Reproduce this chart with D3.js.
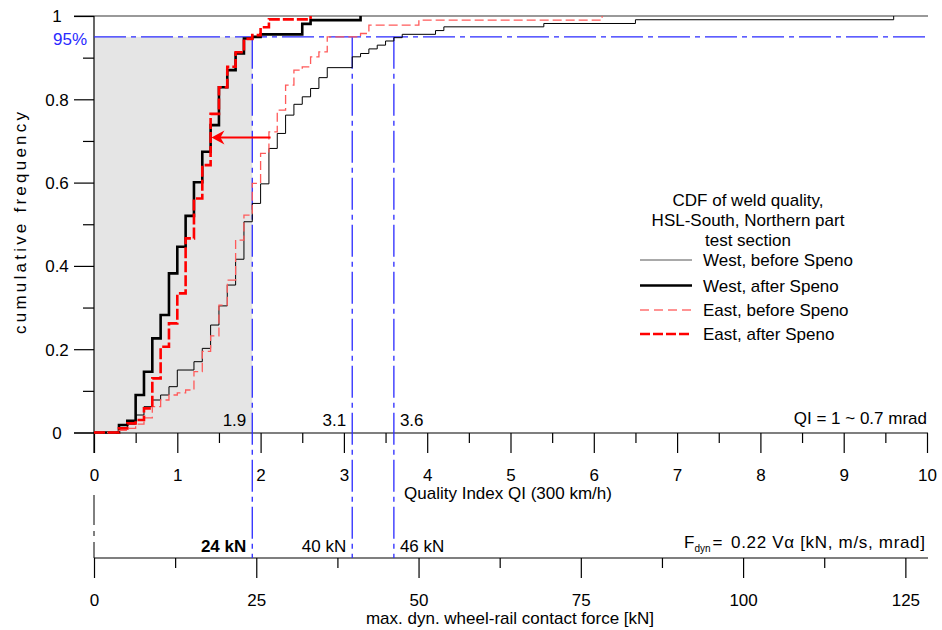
<!DOCTYPE html>
<html>
<head>
<meta charset="utf-8">
<script src="https://cdn.jsdelivr.net/npm/d3@7"></script>
<style>
  body { margin: 0; background: #fff; }
  svg text { font-family: "Liberation Sans", Arial, sans-serif; font-size: 17px; fill: #000; }
</style>
</head>
<body>
<div id="chart"></div>
<script>
// tick values
var qiTicks = d3.range(0, 11);
var qiMinor = d3.range(0.5, 10, 1);
var freqTicks = [0, 0.2, 0.4, 0.6, 0.8, 1];
var freqMinor = [0.1, 0.3, 0.5, 0.7, 0.9];
var forceTicks = [0, 25, 50, 75, 100, 125];
var forceMinor = [12.5, 37.5, 62.5, 87.5, 112.5];

// 95% limits
var qiLimits = [1.9, 3.1, 3.6];
var qiLimitLabels = ["1.9", "3.1", "3.6"];
var forceLimitLabels = ["24 kN", "40 kN", "46 kN"];
var level95 = 0.95;

// arrow: West before -> West after at ~71 %
var arrowFrom = 2.12, arrowTo = 1.41, arrowLevel = 0.708;

// CDF steps [QI, cumulative frequency]
var westBefore = [[0,0],[0.3,0.010],[0.4,0.020],[0.5,0.042],[0.6,0.062],[0.7,0.078],[0.8,0.090],
  [0.9,0.110],[1.0,0.150],[1.2,0.170],[1.3,0.202],[1.4,0.258],[1.5,0.304],[1.6,0.354],[1.7,0.416],
  [1.8,0.506],[1.9,0.550],[2.0,0.597],[2.1,0.682],[2.2,0.718],[2.3,0.762],[2.4,0.788],[2.5,0.806],
  [2.6,0.826],[2.7,0.852],[2.8,0.876],[3.1,0.902],[3.2,0.910],[3.3,0.921],[3.4,0.930],[3.5,0.940],
  [3.6,0.948],[3.7,0.956],[4.1,0.965],[4.2,0.974],[5.4,0.982],[6.5,0.991],[9.6,1]];
var westAfter = [[0,0],[0.3,0.018],[0.4,0.028],[0.5,0.090],[0.6,0.146],[0.7,0.226],[0.8,0.282],
  [0.9,0.382],[1.0,0.446],[1.1,0.520],[1.2,0.601],[1.3,0.674],[1.4,0.738],[1.5,0.829],[1.6,0.870],
  [1.7,0.910],[1.8,0.946],[1.9,0.950],[2.0,0.956],[2.5,0.981],[2.6,0.990],[3.2,1]];
var eastBefore = [[0,0],[0.3,0.005],[0.4,0.010],[0.5,0.020],[0.6,0.035],[0.7,0.062],[0.8,0.078],
  [0.9,0.090],[1.0,0.095],[1.1,0.102],[1.2,0.146],[1.3,0.195],[1.4,0.232],[1.5,0.306],[1.6,0.366],
  [1.7,0.462],[1.8,0.522],[1.9,0.598],[2.0,0.670],[2.1,0.722],[2.2,0.774],[2.3,0.834],[2.4,0.870],
  [2.5,0.878],[2.6,0.902],[2.7,0.914],[2.8,0.950],[3.2,0.958],[3.3,0.978],[3.9,0.990],[6.1,1]];
var eastAfter = [[0,0],[0.3,0.010],[0.4,0.022],[0.5,0.030],[0.6,0.058],[0.7,0.130],[0.8,0.206],
  [0.9,0.262],[1.0,0.334],[1.1,0.466],[1.2,0.562],[1.3,0.642],[1.4,0.765],[1.5,0.829],[1.6,0.878],
  [1.7,0.913],[1.8,0.945],[1.9,0.954],[2.0,0.973],[2.1,0.992],[2.6,1]];

var seriesNames = ["West, before Speno", "West, after Speno", "East, before Speno", "East, after Speno"];

// F = 0.22 * V[m/s] * alpha[mrad], V = 300 km/h, QI 1 ~ 0.7 mrad
var kNperQI = 0.22 * (300 / 3.6) * 0.7;

var svgWidth = 942, svgHeight = 630;
var svg = d3.select("#chart").append("svg")
  .attr("width", svgWidth)
  .attr("height", svgHeight);

var x = d3.scaleLinear().domain([0, 10]).range([94, 927]);
var xF = d3.scaleLinear().domain([0, 10 * kNperQI]).range([94, 927]);
var y = d3.scaleLinear().domain([0, 1]).range([432.5, 16]);
var yQI = 433, yForce = 558;

// shaded area left of QI 1.9, below 95 %
svg.append("rect")
  .attr("x", x(0)).attr("y", y(level95))
  .attr("width", x(qiLimits[0]) - x(0))
  .attr("height", y(0) - y(level95))
  .attr("fill", "#e5e5e5");

// top line at 100 %
svg.append("line")
  .attr("x1", 74).attr("x2", 928)
  .attr("y1", y(1)).attr("y2", y(1))
  .attr("stroke", "#777").attr("stroke-width", 1.5);

// left axis
var leftAxis = d3.axisLeft(y).tickValues(freqTicks).tickSize(20)
  .tickFormat(function(d) { return d === 0 || d === 1 ? d : d3.format(".1f")(d); });
var gy = svg.append("g").attr("transform", "translate(94,0)").call(leftAxis);
gy.select(".domain").remove();
gy.selectAll("text").attr("x", -37).attr("text-anchor", "middle").attr("dy", "0.35em")
  .style("font-size", "17px").style("font-family", "Liberation Sans, Arial, sans-serif");
svg.append("g").attr("transform", "translate(94,0)")
  .call(d3.axisLeft(y).tickValues(freqMinor).tickSize(11).tickFormat(""))
  .select(".domain").remove();
svg.append("line").attr("x1", 94).attr("x2", 94).attr("y1", y(1)).attr("y2", yQI + 20)
  .attr("stroke", "#000").attr("stroke-width", 1.2);

// QI axis
var bottomAxis = d3.axisBottom(x).tickValues(qiTicks).tickSize(20);
var gx = svg.append("g").attr("transform", "translate(0," + yQI + ")").call(bottomAxis);
gx.select(".domain").remove();
gx.selectAll("text").attr("y", 36)
  .style("font-size", "17px").style("font-family", "Liberation Sans, Arial, sans-serif");
svg.append("g").attr("transform", "translate(0," + yQI + ")")
  .call(d3.axisBottom(x).tickValues(qiMinor).tickSize(10).tickFormat(""))
  .select(".domain").remove();
svg.append("line").attr("x1", 74).attr("x2", 928).attr("y1", yQI).attr("y2", yQI)
  .attr("stroke", "#000").attr("stroke-width", 1.2);

// force axis
var forceAxis = d3.axisBottom(xF).tickValues(forceTicks).tickSize(20);
var gf = svg.append("g").attr("transform", "translate(0," + yForce + ")").call(forceAxis);
gf.select(".domain").remove();
gf.selectAll("text").attr("y", 36)
  .style("font-size", "17px").style("font-family", "Liberation Sans, Arial, sans-serif");
svg.append("g").attr("transform", "translate(0," + yForce + ")")
  .call(d3.axisBottom(xF).tickValues(forceMinor).tickSize(10).tickFormat(""))
  .select(".domain").remove();
svg.append("line").attr("x1", 94).attr("x2", 928).attr("y1", yForce).attr("y2", yForce)
  .attr("stroke", "#000").attr("stroke-width", 1.2);

svg.selectAll(".tick line").attr("stroke", "#000").attr("stroke-width", 1.2);

// dash-dot link between the two zero points
svg.append("line").attr("x1", x(0)).attr("x2", x(0)).attr("y1", 495).attr("y2", yForce)
  .attr("stroke", "#000").attr("stroke-width", 1).attr("stroke-dasharray", "30,6,5,6");

// 95 % lines
var dashDot = "32,5,5,5";
svg.append("line").attr("x1", x(0)).attr("x2", x(10)).attr("y1", y(level95)).attr("y2", y(level95))
  .attr("stroke", "#2a2aff").attr("stroke-width", 1.3).attr("stroke-dasharray", dashDot);
svg.selectAll(".limit").data(qiLimits).enter().append("line")
  .attr("class", "limit")
  .attr("x1", d => x(d)).attr("x2", d => x(d))
  .attr("y1", y(level95)).attr("y2", yForce)
  .attr("stroke", "#2a2aff").attr("stroke-width", 1.3).attr("stroke-dasharray", dashDot);

svg.append("text").attr("x", 87).attr("y", 45).attr("text-anchor", "end")
  .style("fill", "#2a2aff").text("95%");

// CDF curves
var line = d3.line().x(d => x(d[0])).y(d => y(d[1])).curve(d3.curveStepAfter);
var styles = [
  {data: westBefore, color: "#000", width: 1, dash: null},
  {data: westAfter, color: "#000", width: 2.6, dash: null},
  {data: eastBefore, color: "#ff5a5a", width: 1.3, dash: "9,4"},
  {data: eastAfter, color: "#ff0000", width: 2.6, dash: "11,3"}
];
styles.forEach(function(s) {
  svg.append("path").datum(s.data)
    .attr("d", line)
    .attr("fill", "none")
    .attr("stroke", s.color)
    .attr("stroke-width", s.width)
    .attr("stroke-dasharray", s.dash);
});

// arrow
svg.append("line")
  .attr("x1", x(arrowFrom)).attr("x2", x(arrowTo) + 6)
  .attr("y1", y(arrowLevel)).attr("y2", y(arrowLevel))
  .attr("stroke", "#ff0000").attr("stroke-width", 2);
var ax = x(arrowTo), ay = y(arrowLevel);
svg.append("path")
  .attr("d", "M" + ax + "," + ay + " L" + (ax + 13) + "," + (ay - 7) + " L" + (ax + 9) + "," + ay +
    " L" + (ax + 13) + "," + (ay + 7) + " Z")
  .attr("fill", "#ff0000");

// limit labels
svg.selectAll(".qiLab").data(qiLimits).enter().append("text")
  .attr("x", (d, i) => i < 2 ? x(d) - 6 : x(d) + 6)
  .attr("y", 426)
  .attr("text-anchor", (d, i) => i < 2 ? "end" : "start")
  .text((d, i) => qiLimitLabels[i]);
svg.selectAll(".fLab").data(qiLimits).enter().append("text")
  .attr("x", (d, i) => i < 2 ? x(d) - 6 : x(d) + 6)
  .attr("y", 552)
  .attr("text-anchor", (d, i) => i < 2 ? "end" : "start")
  .style("font-weight", (d, i) => i === 0 ? "bold" : "normal")
  .text((d, i) => forceLimitLabels[i]);

svg.append("text").attr("x", 927).attr("y", 424).attr("text-anchor", "end")
  .text("QI = 1 ~ 0.7 mrad");
var fText = svg.append("text").attr("x", 684).attr("y", 548);
fText.append("tspan").text("F");
fText.append("tspan").attr("dy", 4).style("font-size", "10px").text("dyn");
fText.append("tspan").attr("dy", -4).attr("dx", 2).text("=");
fText.append("tspan").attr("x", 731)
  .attr("textLength", 194).attr("lengthAdjust", "spacing")
  .text("0.22 V\u03b1 [kN, m/s, mrad]");

// axis titles
svg.append("text").attr("x", 508).attr("y", 499).attr("text-anchor", "middle")
  .text("Quality Index QI (300 km/h)");
svg.append("text").attr("x", 510).attr("y", 624).attr("text-anchor", "middle")
  .text("max. dyn. wheel-rail contact force [kN]");
svg.append("text")
  .attr("transform", "translate(26,223) rotate(-90)")
  .attr("text-anchor", "middle")
  .attr("textLength", 222).attr("lengthAdjust", "spacing")
  .text("cumulative frequency");

// legend
var legendTitle = ["CDF of weld quality,", "HSL-South, Northern part", "test section"];
svg.selectAll(".lt").data(legendTitle).enter().append("text")
  .attr("x", 748).attr("y", (d, i) => 206 + i * 20)
  .attr("text-anchor", "middle").text(d => d);
var legendY = [260, 285.5, 310, 334];
var legendStyles = [
  {color: "#555", width: 1, dash: null},
  {color: "#000", width: 2.4, dash: null},
  {color: "#ff7070", width: 1.6, dash: "9,5"},
  {color: "#ff0000", width: 2.4, dash: "10,3"}
];
seriesNames.forEach(function(name, i) {
  var ly = legendY[i];
  svg.append("line").attr("x1", 640).attr("x2", 692).attr("y1", ly).attr("y2", ly)
    .attr("stroke", legendStyles[i].color).attr("stroke-width", legendStyles[i].width)
    .attr("stroke-dasharray", legendStyles[i].dash);
  svg.append("text").attr("x", 703).attr("y", ly + 6).text(name);
});
</script>
</body>
</html>
